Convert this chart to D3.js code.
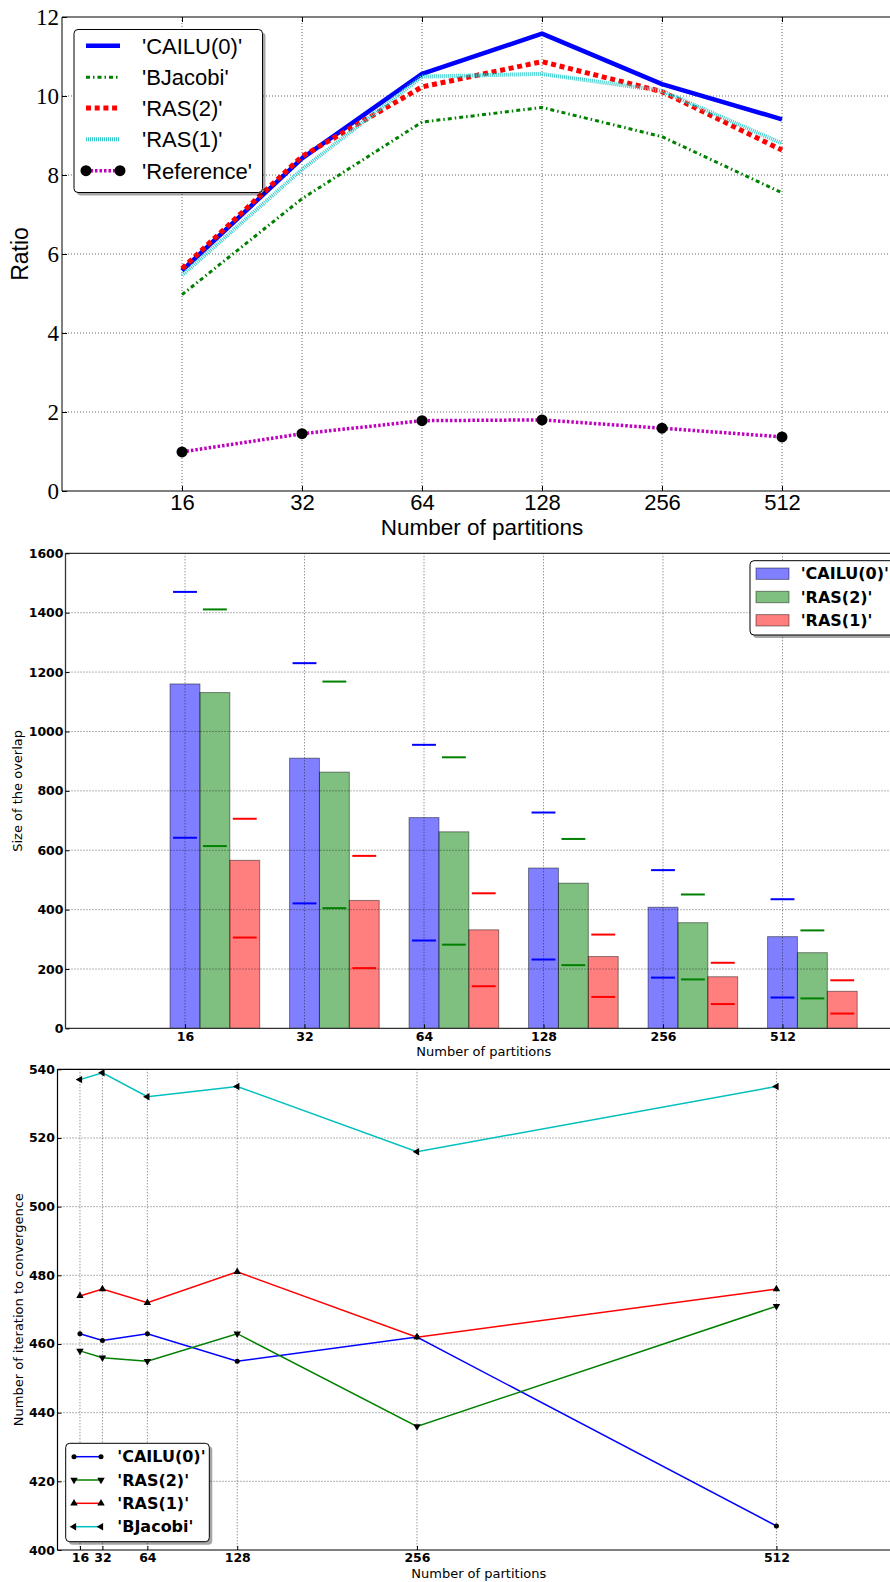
<!DOCTYPE html>
<html><head><meta charset="utf-8">
<script src="https://cdn.jsdelivr.net/npm/d3@7"></script>
<style>body{margin:0;background:#fff} svg{display:block}</style>
</head><body>
<script>
// ---------- DATA ----------
const partitions = ["16","32","64","128","256","512"];
const partitionNums = [16,32,64,128,256,512];

// Panel 1: Ratio
const ratioSeries = ["'CAILU(0)'","'BJacobi'","'RAS(2)'","'RAS(1)'","'Reference'"];
const ratioCAILU     = [5.58, 8.42, 10.56, 11.58, 10.30, 9.41];
const ratioBJacobi   = [4.97, 7.40, 9.34, 9.71, 8.97, 7.55];
const ratioRAS2      = [5.63, 8.47, 10.23, 10.87, 10.11, 8.63];
const ratioRAS1      = [5.46, 8.14, 10.49, 10.56, 10.13, 8.80];
const ratioReference = [0.99, 1.45, 1.78, 1.80, 1.59, 1.37];
const ratioTicks = [0,2,4,6,8,10,12];

// Panel 2: Size of the overlap
const overlapSeries = ["'CAILU(0)'","'RAS(2)'","'RAS(1)'"];
const overlapCAILU = [1160, 910, 710, 540, 408, 309];
const overlapRAS2  = [1131, 863, 662, 489, 356, 255];
const overlapRAS1  = [566, 431, 332, 242, 174, 125];
const overlapCAILUHigh = [1470, 1230, 955, 727, 533, 435];
const overlapCAILULow  = [642, 421, 296, 232, 171, 104];
const overlapRAS2High  = [1411, 1168, 913, 638, 451, 330];
const overlapRAS2Low   = [614, 405, 282, 213, 165, 101];
const overlapRAS1High  = [706, 581, 455, 316, 221, 162];
const overlapRAS1Low   = [306, 203, 142, 106, 82, 50];
const overlapTicks = [0,200,400,600,800,1000,1200,1400,1600];

// Panel 3: iterations
const iterSeries = ["'CAILU(0)'","'RAS(2)'","'RAS(1)'","'BJacobi'"];
const iterCAILU   = [463, 461, 463, 455, 462, 407];
const iterRAS2    = [458, 456, 455, 463, 436, 471];
const iterRAS1    = [474, 476, 472, 481, 462, 476];
const iterBJacobi = [537, 539, 532, 535, 516, 535];
const iterTicks = [400,420,440,460,480,500,520,540];

// ---------- SETUP ----------
const W = 890, H = 1582;
const svg = d3.select("body").append("svg").attr("width", W).attr("height", H);
svg.append("rect").attr("width", W).attr("height", H).attr("fill", "#fff");

function grid(g, xs, ys, xScale, yScale, x0, x1, y0, y1) {
  g.selectAll(null).data(xs).join("line")
    .attr("x1", d => xScale(d)).attr("x2", d => xScale(d))
    .attr("y1", y0).attr("y2", y1)
    .attr("stroke", "#000").attr("stroke-width", 0.6).attr("stroke-dasharray", "1,2");
  g.selectAll(null).data(ys).join("line")
    .attr("y1", d => yScale(d)).attr("y2", d => yScale(d))
    .attr("x1", x0).attr("x2", x1)
    .attr("stroke", "#000").attr("stroke-width", 0.6).attr("stroke-dasharray", "1,2");
}
function styleAxis(sel, font, size, weight) {
  sel.select(".domain").remove();
  sel.selectAll("text").attr("font-family", font).attr("font-size", size)
    .attr("font-weight", weight).attr("fill", "#000");
  sel.selectAll("line").attr("stroke", "#000");
}
function shadowBox(g, x, y, w, h) {
  g.append("rect").attr("x", x + 3).attr("y", y + 3).attr("width", w).attr("height", h)
    .attr("rx", 4).attr("fill", "#000").attr("opacity", 0.35);
  g.append("rect").attr("x", x).attr("y", y).attr("width", w).attr("height", h)
    .attr("rx", 4).attr("fill", "#fff").attr("stroke", "#000").attr("stroke-width", 1);
}

// ---------- PANEL 1 ----------
{
  const L = 62, T = 17, B = 491, R = 902;
  const x = d3.scaleLinear().domain([0, 7]).range([L, R]);
  const y = d3.scaleLinear().domain([0, 12]).range([B, T]);
  const g = svg.append("g");
  grid(g, d3.range(1, 7), ratioTicks.slice(1, -1), x, y, L, R, T, B);

  const styles = [
    {data: ratioCAILU, color: "#0000ff", w: 4.5, dash: null},
    {data: ratioBJacobi, color: "#008000", w: 3, dash: "4,3,1.5,3"},
    {data: ratioRAS2, color: "#ff0000", w: 5, dash: "5,3.7"},
    {data: ratioRAS1, color: "#33cccc", w: 4, dash: "1,1"},
    {data: ratioReference, color: "#bf00bf", w: 3.5, dash: "2.5,2", marker: true}
  ];
  const line = d3.line().x((d, i) => x(i + 1)).y(d => y(d));
  styles.forEach(s => {
    g.append("path").datum(s.data).attr("d", line).attr("fill", "none")
      .attr("stroke", s.color).attr("stroke-width", s.w)
      .attr("stroke-dasharray", s.dash).attr("stroke-linejoin", "round");
    if (s.marker) {
      g.selectAll(null).data(s.data).join("circle")
        .attr("cx", (d, i) => x(i + 1)).attr("cy", d => y(d)).attr("r", 5.5).attr("fill", "#000");
    }
  });

  g.append("line").attr("x1", L).attr("x2", L).attr("y1", T).attr("y2", B).attr("stroke", "#000");
  g.append("line").attr("x1", L).attr("x2", R).attr("y1", B).attr("y2", B).attr("stroke", "#000");
  g.append("line").attr("x1", L).attr("x2", R).attr("y1", T).attr("y2", T).attr("stroke", "#000");

  const ax = g.append("g").attr("transform", `translate(0,${B})`)
    .call(d3.axisBottom(x).tickValues(d3.range(1, 7)).tickFormat(i => partitions[i - 1])
      .tickSizeInner(-5).tickSizeOuter(0).tickPadding(3));
  styleAxis(ax, "Liberation Sans, Arial, sans-serif", 22, "normal");
  const axT = g.append("g").attr("transform", `translate(0,${T})`)
    .call(d3.axisTop(x).tickValues(d3.range(1, 7)).tickFormat("").tickSizeInner(-5).tickSizeOuter(0));
  styleAxis(axT, "sans-serif", 10, "normal");
  const ay = g.append("g").attr("transform", `translate(${L},0)`)
    .call(d3.axisLeft(y).tickValues(ratioTicks).tickFormat(d3.format("d"))
      .tickSizeInner(-5).tickSizeOuter(0).tickPadding(3));
  styleAxis(ay, "Liberation Serif, Times New Roman, serif", 23, "normal");

  g.append("text").attr("x", (L + R) / 2).attr("y", 535).attr("text-anchor", "middle")
    .attr("font-family", "Liberation Sans, Arial, sans-serif").attr("font-size", 22.5)
    .text("Number of partitions");
  g.append("text").attr("transform", `translate(28,${(T + B) / 2}) rotate(-90)`)
    .attr("text-anchor", "middle")
    .attr("font-family", "Liberation Sans, Arial, sans-serif").attr("font-size", 23)
    .text("Ratio");

  const lg = g.append("g");
  shadowBox(lg, 74, 29.5, 188.5, 163);
  const rows = [45.7, 77.3, 108, 139.3, 170.7];
  styles.forEach((s, i) => {
    lg.append("line").attr("x1", 86).attr("x2", 120).attr("y1", rows[i]).attr("y2", rows[i])
      .attr("stroke", s.color).attr("stroke-width", s.w).attr("stroke-dasharray", s.dash);
    if (s.marker) {
      [86, 120].forEach(cx => lg.append("circle").attr("cx", cx).attr("cy", rows[i]).attr("r", 5.5).attr("fill", "#000"));
    }
    lg.append("text").attr("x", 142).attr("y", rows[i]).attr("dy", "0.36em")
      .attr("font-family", "Liberation Sans, Arial, sans-serif").attr("font-size", 22)
      .text(ratioSeries[i]);
  });
}

// ---------- PANEL 2 ----------
{
  const L = 65.5, T = 553.3, B = 1028.4, R = 902;
  const x = d3.scaleLinear().domain([0, 7]).range([L, R]);
  const y = d3.scaleLinear().domain([0, 1600]).range([B, T]);
  const g = svg.append("g");
  const bw = 0.25;
  const series = [
    {vals: overlapCAILU, hi: overlapCAILUHigh, lo: overlapCAILULow, fill: "#0000ff", mark: "#0000ff", off: 0},
    {vals: overlapRAS2, hi: overlapRAS2High, lo: overlapRAS2Low, fill: "#008000", mark: "#008000", off: 1},
    {vals: overlapRAS1, hi: overlapRAS1High, lo: overlapRAS1Low, fill: "#ff0000", mark: "#ff0000", off: 2}
  ];
  series.forEach(s => {
    g.selectAll(null).data(s.vals).join("rect")
      .attr("x", (d, i) => x(i + 1 + s.off * bw - bw / 2))
      .attr("width", x(bw) - x(0))
      .attr("y", d => y(d)).attr("height", d => y(0) - y(d))
      .attr("fill", s.fill).attr("fill-opacity", 0.5)
      .attr("stroke", "#000").attr("stroke-opacity", 0.45).attr("stroke-width", 1);
  });
  grid(g, d3.range(1, 7), overlapTicks.slice(1, -1), x, y, L, R, T, B);
  series.forEach(s => {
    [s.hi, s.lo].forEach(arr => {
      g.selectAll(null).data(arr).join("line")
        .attr("x1", (d, i) => x(i + 1 + s.off * bw - 0.1))
        .attr("x2", (d, i) => x(i + 1 + s.off * bw + 0.1))
        .attr("y1", d => y(d)).attr("y2", d => y(d))
        .attr("stroke", s.mark).attr("stroke-width", 2);
    });
  });
  const sp = "#333";
  g.append("line").attr("x1", L).attr("x2", L).attr("y1", T).attr("y2", B).attr("stroke", sp).attr("stroke-width", 1.3);
  g.append("line").attr("x1", L).attr("x2", R).attr("y1", B).attr("y2", B).attr("stroke", sp).attr("stroke-width", 1.3);
  g.append("line").attr("x1", L).attr("x2", R).attr("y1", T).attr("y2", T).attr("stroke", sp).attr("stroke-width", 1.3);

  const ax = g.append("g").attr("transform", `translate(0,${B})`)
    .call(d3.axisBottom(x).tickValues(d3.range(1, 7)).tickFormat(i => partitions[i - 1])
      .tickSizeInner(-4).tickSizeOuter(0).tickPadding(3.5));
  styleAxis(ax, "DejaVu Sans, sans-serif", 12.5, "bold");
  const ay = g.append("g").attr("transform", `translate(${L},0)`)
    .call(d3.axisLeft(y).tickValues(overlapTicks).tickFormat(d3.format("d"))
      .tickSizeInner(-4).tickSizeOuter(0).tickPadding(2));
  styleAxis(ay, "DejaVu Sans, sans-serif", 12.5, "bold");

  g.append("text").attr("x", (L + R) / 2).attr("y", 1055.5).attr("text-anchor", "middle")
    .attr("font-family", "DejaVu Sans, sans-serif").attr("font-size", 13)
    .text("Number of partitions");
  g.append("text").attr("transform", `translate(22,${(T + B) / 2}) rotate(-90)`)
    .attr("text-anchor", "middle")
    .attr("font-family", "DejaVu Sans, sans-serif").attr("font-size", 13)
    .text("Size of the overlap");

  const lg = g.append("g");
  shadowBox(lg, 750, 560.7, 160, 74.3);
  const rows = [573.7, 597, 620.3];
  series.forEach((s, i) => {
    lg.append("rect").attr("x", 756).attr("y", rows[i] - 5.7).attr("width", 33).attr("height", 11.4)
      .attr("fill", s.fill).attr("fill-opacity", 0.5)
      .attr("stroke", "#000").attr("stroke-opacity", 0.45);
    lg.append("text").attr("x", 800.7).attr("y", rows[i]).attr("dy", "0.36em")
      .attr("font-family", "DejaVu Sans, sans-serif").attr("font-size", 16).attr("font-weight", "bold")
      .text(overlapSeries[i]);
  });
}

// ---------- PANEL 3 ----------
{
  const L = 57.5, T = 1069.3, B = 1550, R = 900;
  const x = d3.scaleLinear().domain([0, 600]).range([L, R]);
  const y = d3.scaleLinear().domain([400, 540]).range([B, T]);
  const g = svg.append("g");
  grid(g, partitionNums, iterTicks.slice(1, -1), x, y, L, R, T, B);

  const tri = d3.symbol().type(d3.symbolTriangle).size(24)();
  const circ = d3.symbol().type(d3.symbolCircle).size(20)();
  const series = [
    {vals: iterCAILU, color: "#0000ff", sym: circ, rot: 0},
    {vals: iterRAS2, color: "#008000", sym: tri, rot: 180},
    {vals: iterRAS1, color: "#ff0000", sym: tri, rot: 0},
    {vals: iterBJacobi, color: "#00bfbf", sym: tri, rot: -90}
  ];
  const line = d3.line().x((d, i) => x(partitionNums[i])).y(d => y(d));
  series.forEach(s => {
    g.append("path").datum(s.vals).attr("d", line).attr("fill", "none")
      .attr("stroke", s.color).attr("stroke-width", 1.5);
    g.selectAll(null).data(s.vals).join("path").attr("d", s.sym)
      .attr("transform", (d, i) => `translate(${x(partitionNums[i])},${y(d)}) rotate(${s.rot})`)
      .attr("fill", "#000");
  });

  g.append("line").attr("x1", L).attr("x2", L).attr("y1", T).attr("y2", B).attr("stroke", "#000").attr("stroke-width", 1.2);
  g.append("line").attr("x1", L).attr("x2", R).attr("y1", B).attr("y2", B).attr("stroke", "#000").attr("stroke-width", 1.2);
  g.append("line").attr("x1", L).attr("x2", R).attr("y1", T).attr("y2", T).attr("stroke", "#000").attr("stroke-width", 1.2);

  const ax = g.append("g").attr("transform", `translate(0,${B})`)
    .call(d3.axisBottom(x).tickValues(partitionNums).tickFormat(d3.format("d"))
      .tickSizeInner(-4).tickSizeOuter(0).tickPadding(3));
  styleAxis(ax, "DejaVu Sans, sans-serif", 12.5, "bold");
  const ay = g.append("g").attr("transform", `translate(${L},0)`)
    .call(d3.axisLeft(y).tickValues(iterTicks).tickFormat(d3.format("d"))
      .tickSizeInner(-4).tickSizeOuter(0).tickPadding(2.5));
  styleAxis(ay, "DejaVu Sans, sans-serif", 12.5, "bold");

  g.append("text").attr("x", (L + R) / 2).attr("y", 1577.5).attr("text-anchor", "middle")
    .attr("font-family", "DejaVu Sans, sans-serif").attr("font-size", 13)
    .text("Number of partitions");
  g.append("text").attr("transform", `translate(23,${(T + B) / 2}) rotate(-90)`)
    .attr("text-anchor", "middle")
    .attr("font-family", "DejaVu Sans, sans-serif").attr("font-size", 13)
    .text("Number of iteration to convergence");

  const lg = g.append("g");
  shadowBox(lg, 65.7, 1443.3, 143.6, 98.4);
  const rows = [1456.7, 1480, 1503.3, 1526.7];
  series.forEach((s, i) => {
    lg.append("line").attr("x1", 74).attr("x2", 101).attr("y1", rows[i]).attr("y2", rows[i])
      .attr("stroke", s.color).attr("stroke-width", 1.5);
    [74, 101].forEach(cx => lg.append("path").attr("d", s.sym)
      .attr("transform", `translate(${cx},${rows[i]}) rotate(${s.rot})`).attr("fill", "#000"));
    lg.append("text").attr("x", 117.3).attr("y", rows[i]).attr("dy", "0.36em")
      .attr("font-family", "DejaVu Sans, sans-serif").attr("font-size", 16).attr("font-weight", "bold")
      .text(iterSeries[i]);
  });
}
</script>
</body></html>
